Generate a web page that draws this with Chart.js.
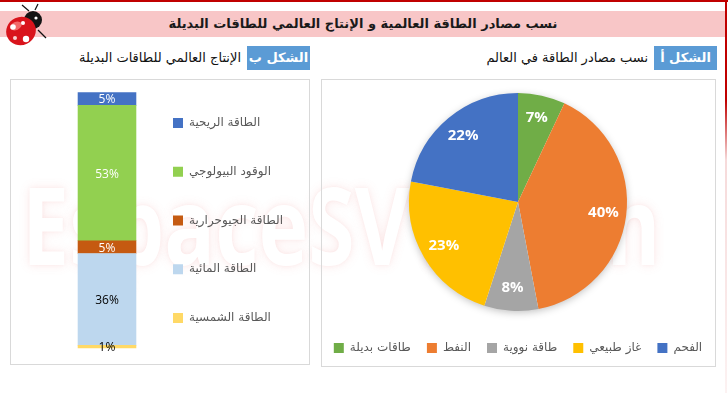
<!DOCTYPE html>
<html lang="ar">
<head>
<meta charset="utf-8">
<script src="https://cdn.jsdelivr.net/npm/chart.js@4/dist/chart.umd.min.js"></script>
<style>
  html, body { margin: 0; padding: 0; background: #fff; }
  body { width: 728px; height: 393px; position: relative; overflow: hidden; font-family: "DejaVu Sans", sans-serif; }
  .abs { position: absolute; }
  #topLine { left: 0; top: 0; width: 728px; height: 2px; background: #c00000; }
  #rightLine { left: 725px; top: 0; width: 2px; height: 393px; background: linear-gradient(#c00000 0, #c00000 100px, rgba(230,150,150,0.35) 160px, rgba(240,190,190,0.2) 393px); }
  #banner { left: 0; top: 11px; width: 725px; height: 26px; background: #f8c6c7; }
  #title { left: 0; top: 11px; width: 726px; height: 26px; line-height: 26px; text-align: center; font-weight: bold; font-size: 13px; color: #1a1a1a; }
  .tag { top: 46px; width: 63px; height: 24px; line-height: 24px; background: #5b9bd5; color: #fff; font-weight: bold; font-size: 13px; text-align: center; }
  .sub { top: 46px; height: 24px; line-height: 24px; font-size: 13px; color: #111; text-align: right; white-space: nowrap; }
  .panel { border: 1px solid #d9d9d9; background: transparent; }
  #watermark { left: 22px; top: 150px; font-family: "Open Sans", sans-serif; font-weight: bold; font-size: 108px; color: #fff;
    text-shadow: 0 0 12px rgba(235,110,110,0.15), 0 0 4px rgba(235,110,110,0.08); transform-origin: 0 0; transform: scaleX(0.78); white-space: nowrap; }
  canvas { position: absolute; }
</style>
</head>
<body>
<div id="watermark" class="abs">EspaceSVT.com</div>
<div id="topLine" class="abs"></div>
<div id="rightLine" class="abs"></div>
<div id="banner" class="abs"></div>
<div id="title" class="abs">نسب مصادر الطاقة العالمية و الإنتاج العالمي للطاقات البديلة</div>
<svg class="abs" style="left:2px;top:2px" width="48" height="46" viewBox="0 0 48 46">
  <line x1="27" y1="9" x2="20" y2="3" stroke="#111" stroke-width="1.2"/>
  <line x1="33" y1="8" x2="36" y2="2" stroke="#111" stroke-width="1.2"/>
  <line x1="36" y1="28" x2="44" y2="36" stroke="#111" stroke-width="1.2"/>
  <ellipse cx="31" cy="18" rx="9" ry="9" fill="#141414"/>
  <circle cx="34" cy="16" r="1.6" fill="#fff"/>
  <circle cx="29" cy="21" r="1.2" fill="#fff"/>
  <ellipse cx="19" cy="29" rx="15" ry="14" fill="#d9141c" transform="rotate(-25 19 29)"/>
  <ellipse cx="14" cy="24" rx="6" ry="4" fill="#f26a6a" transform="rotate(-25 14 24)"/>
  <circle cx="11" cy="25" r="2.8" fill="#fff"/>
  <circle cx="24" cy="37" r="3.2" fill="#fff"/>
  <circle cx="21" cy="21" r="2" fill="#fff"/>
  <circle cx="13" cy="36" r="2" fill="#f7d0d0"/>
</svg>

<div class="abs tag" style="left:654px">الشكل أ</div>
<div class="abs sub" style="left:440px;width:208px">نسب مصادر الطاقة في العالم</div>
<div class="abs tag" style="left:247px">الشكل ب</div>
<div class="abs sub" style="left:20px;width:221px">الإنتاج العالمي للطاقات البديلة</div>

<div class="abs panel" style="left:10px;top:79px;width:298px;height:284px"></div>
<div class="abs panel" style="left:321px;top:79px;width:393px;height:286px"></div>

<canvas id="barChart" style="left:10px;top:68px" width="310" height="305"></canvas>
<canvas id="pieChart" style="left:302px;top:78px" width="440" height="286"></canvas>

<script>
// --- Figure A: world energy sources (pie) ---
const pieLabels = ['طاقات بديلة', 'النفط', 'طاقة نووية', 'غاز طبيعي', 'الفحم'];
const pieValues = [7, 40, 8, 23, 22];
const pieColors = ['#70ad47', '#ed7d31', '#a5a5a5', '#ffc000', '#4472c4'];

// --- Figure B: world production of alternative energies (stacked bar, bottom to top) ---
const barSeries = ['الطاقة الشمسية', 'الطاقة المائية', 'الطاقة الجيوحرارية', 'الوقود البيولوجي', 'الطاقة الريحية'];
const barValues = [1, 36, 5, 53, 5];
const barColors = ['#ffd966', '#bdd7ee', '#c55a11', '#92d050', '#4472c4'];
const barTextColors = ['#000', '#000', '#fff', '#fff', '#fff'];

const legendFont = { family: '"DejaVu Sans"', size: 12 };

// white percentage labels in the pie
const pieLabelPlugin = {
    id: 'pieLabelPlugin',
    beforeDatasetsDraw(chart) {
        // soft shadow under the pie
        const arc = chart.getDatasetMeta(0).data[0];
        if (!arc) return;
        const { x, y, outerRadius } = arc.getProps(['x', 'y', 'outerRadius'], true);
        const ctx = chart.ctx;
        ctx.save();
        ctx.shadowColor = 'rgba(0,0,0,0.28)';
        ctx.shadowBlur = 9;
        ctx.shadowOffsetY = 2;
        ctx.fillStyle = '#fff';
        ctx.beginPath();
        ctx.arc(x, y, outerRadius - 1, 0, Math.PI * 2);
        ctx.fill();
        ctx.restore();
    },
    afterDatasetsDraw(chart) {
        const ctx = chart.ctx;
        const meta = chart.getDatasetMeta(0);
        ctx.save();
        ctx.font = 'bold 15px "Open Sans"';
        ctx.fillStyle = '#fff';
        ctx.textAlign = 'center';
        ctx.textBaseline = 'middle';
        meta.data.forEach((el, i) => {
            const p = el.getProps(['x', 'y', 'startAngle', 'endAngle', 'outerRadius'], true);
            const mid = (p.startAngle + p.endAngle) / 2;
            const r = p.outerRadius * 0.79;
            ctx.fillText(pieValues[i] + '%', p.x + Math.cos(mid) * r, p.y + Math.sin(mid) * r);
        });
        ctx.restore();
    }
};

// percentage labels on the stacked bar
const barLabelPlugin = {
    id: 'barLabelPlugin',
    afterDatasetsDraw(chart) {
        const ctx = chart.ctx;
        ctx.save();
        ctx.font = '12px "Open Sans"';
        ctx.textAlign = 'center';
        ctx.textBaseline = 'middle';
        chart.data.datasets.forEach((ds, i) => {
            const el = chart.getDatasetMeta(i).data[0];
            const p = el.getProps(['x', 'y', 'base'], true);
            ctx.fillStyle = barTextColors[i];
            ctx.fillText(barValues[i] + '%', p.x, (p.y + p.base) / 2 + 1);
        });
        ctx.restore();
    }
};

new Chart(document.getElementById('pieChart'), {
    type: 'pie',
    data: {
        labels: pieLabels,
        datasets: [{
            data: pieValues,
            backgroundColor: pieColors,
            borderWidth: 0,
            radius: 109
        }]
    },
    options: {
        responsive: false,
        animation: false,
        layout: { padding: { left: 0, right: 8, top: 0, bottom: 0 } },
        plugins: {
            tooltip: { enabled: false },
            legend: {
                position: 'bottom',
                labels: {
                    boxWidth: 10,
                    boxHeight: 10,
                    padding: 16,
                    color: '#595959',
                    font: legendFont
                }
            }
        }
    },
    plugins: [pieLabelPlugin]
});

// legend placement for the bar chart: first box at x=173, bar centred at x=107
const measure = document.createElement('canvas').getContext('2d');
measure.font = '12px "DejaVu Sans"';
const textW = Math.max(...barSeries.map(t => measure.measureText(t).width));
const legendPad = 36.7;
const legendW = legendPad + 10 + 6 + textW + 10;
const areaRight = 173 - legendPad - 10;   // canvas coords
const areaLeft = 107 - 10 - (areaRight - (107 - 10));

new Chart(document.getElementById('barChart'), {
    type: 'bar',
    data: {
        labels: [''],
        datasets: barSeries.map((name, i) => ({
            label: name,
            data: [barValues[i]],
            backgroundColor: barColors[i],
            borderWidth: 0,
            barThickness: 66
        }))
    },
    options: {
        responsive: false,
        animation: false,
        layout: { padding: { top: 0, bottom: 0, left: areaLeft, right: 310 - areaRight - legendW } },
        scales: {
            x: { stacked: true, display: false },
            y: { stacked: true, display: false, min: -9.79, max: 109.67 }
        },
        plugins: {
            tooltip: { enabled: false },
            legend: {
                position: 'right',
                reverse: true,
                maxWidth: 300,
                labels: {
                    boxWidth: 10,
                    boxHeight: 10,
                    padding: legendPad,
                    color: '#595959',
                    font: legendFont
                }
            }
        }
    },
    plugins: [barLabelPlugin]
});
</script>
</body>
</html>
